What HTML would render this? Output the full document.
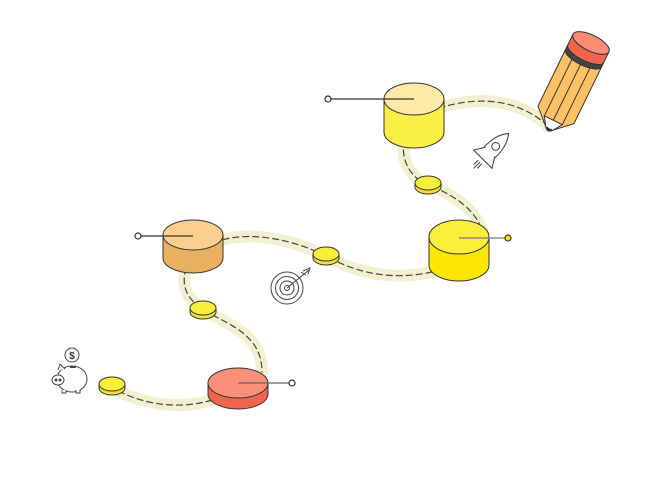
<!DOCTYPE html>
<html><head><style>body{margin:0;background:#fff}svg{display:block}</style></head><body>
<svg width="650" height="500" viewBox="0 0 650 500" xmlns="http://www.w3.org/2000/svg">
<g fill="none" stroke-linecap="round">
<g stroke="#eff1d1" stroke-width="12">
<path d="M548,126 C520,100 480,95 440,108"/>
<path d="M404,140 C400,165 415,180 428,185 C455,195 475,210 482,230"/>
<path d="M432,272 C395,280 360,275 326,256 C290,238 250,232 222,240"/>
<path d="M186,268 C180,290 190,300 203,310 C230,325 262,335 262,372"/>
<path d="M212,400 C180,410 140,405 112,387"/>
</g>
<g stroke="#444" stroke-width="1.2" stroke-dasharray="6 4">
<path d="M548,126 C520,100 480,95 440,108"/>
<path d="M404,140 C400,165 415,180 428,185 C455,195 475,210 482,230"/>
<path d="M432,272 C395,280 360,275 326,256 C290,238 250,232 222,240"/>
<path d="M186,268 C180,290 190,300 203,310 C230,325 262,335 262,372"/>
<path d="M212,400 C180,410 140,405 112,387"/>
</g>
</g>
<g stroke="#333" stroke-width="1">
<path d="M384,99 V132 A30,16 0 0 0 444,132 V99 Z" fill="#f9ef45"/>
<ellipse cx="414" cy="99" rx="30" ry="16" fill="#fde9a8"/>
<path d="M429,237 V265 A30,16 0 0 0 489,265 V237 Z" fill="#ffe600"/>
<ellipse cx="459" cy="237" rx="30" ry="17" fill="#fbef3c"/>
<path d="M163,235 V258 A30,15 0 0 0 223,258 V235 Z" fill="#e8b060"/>
<ellipse cx="193" cy="235" rx="30" ry="15" fill="#fdcf8f"/>
<path d="M208,383 V394 A30,15 0 0 0 268,394 V383 Z" fill="#f0654c"/>
<ellipse cx="238" cy="383" rx="30" ry="15" fill="#fc8f7a"/>
<g fill="#f5e13a">
<path d="M415,183 v4 a13,7 0 0 0 26,0 v-4 z"/><ellipse cx="428" cy="183" rx="13" ry="7" fill="#f9ef3a"/>
<path d="M313,254 v4 a13,7 0 0 0 26,0 v-4 z"/><ellipse cx="326" cy="254" rx="13" ry="7" fill="#f9ef3a"/>
<path d="M190,308 v4 a13,7 0 0 0 26,0 v-4 z"/><ellipse cx="203" cy="308" rx="13" ry="7" fill="#f9ef3a"/>
<path d="M99,384 v4 a13,7 0 0 0 26,0 v-4 z"/><ellipse cx="112" cy="384" rx="13" ry="7" fill="#f9ef3a"/>
</g>
</g>
<g stroke="#333" stroke-width="1.2">
<line x1="331" y1="99" x2="414" y2="99"/><circle cx="328" cy="99" r="3" fill="#fff"/>
<line x1="459" y1="238" x2="505" y2="238" stroke="#777"/><circle cx="508" cy="238" r="3" fill="#ffe600"/>
<line x1="141" y1="236" x2="193" y2="236"/><circle cx="138" cy="236" r="3" fill="#fff"/>
<line x1="238" y1="383" x2="289" y2="383" stroke="#666"/><circle cx="292" cy="383" r="3" fill="#fff"/>
</g>
<g transform="translate(591,43) rotate(26)" stroke="#333" stroke-width="1">
<path d="M-20,0 V12 A20,7 0 0 0 20,12 V0 Z" fill="#f0654c"/>
<path d="M-20,12 V17 A20,7 0 0 0 20,17 V12 A20,7 0 0 1 -20,12 Z" fill="#444"/>
<path d="M-20,17 V80 L-4,95 Q0,99 4,95 L20,80 V17 A20,7 0 0 1 -20,17 Z" fill="#fec264"/>
<path d="M-10,23 V86 M0,24 V90 M10,23 V86"/>
<path d="M-10,86 L-4,95 Q0,99 4,95 L10,86 Z" fill="#fff"/>
<path d="M-3,95 Q0,99 3,95" stroke-width="2.5"/>
<ellipse cx="0" cy="0" rx="20" ry="8" fill="#fd8a72"/>
</g>
<g stroke="#444" stroke-width="0.8" fill="#fff" transform="translate(492,150) rotate(45) scale(1.3)">
<path d="M0,-18 C7,-10 7,4 4,10 H-4 C-7,4 -7,-10 0,-18 Z"/>
<circle cx="0" cy="-4" r="3"/>
<path d="M-5,2 L-10,10 L-4,10 M5,2 L10,10 L4,10"/>
<path d="M-2,13 V18 M0,13 V20 M2,13 V18" fill="none"/>
</g>
<g stroke="#444" stroke-width="1" fill="none">
<circle cx="287" cy="288" r="16"/><circle cx="287" cy="288" r="11.5"/><circle cx="287" cy="288" r="7"/><circle cx="287" cy="288" r="2.5"/>
<path d="M287,288 L309,270 M303,271 L310,268 L308,274 M301,272 L306,275"/>
</g>
<g stroke="#444" stroke-width="1" fill="#fff">
<circle cx="72" cy="355" r="7"/>
<text x="72" y="359" font-family="Liberation Sans, sans-serif" font-size="10" text-anchor="middle" fill="#333" stroke="none" font-weight="bold">$</text>
<ellipse cx="72" cy="379" rx="15" ry="13"/>
<path d="M58,370 L60,364 L65,369"/>
<path d="M62,390 v3 h4 v-3 M76,390 v3 h4 v-3"/>
<ellipse cx="58" cy="380" rx="6" ry="5"/>
<circle cx="56" cy="380" r="1" fill="#444"/><circle cx="60" cy="380" r="1" fill="#444"/>
<line x1="70" y1="367" x2="76" y2="367" stroke-width="2"/>
</g>
</svg>
</body></html>
